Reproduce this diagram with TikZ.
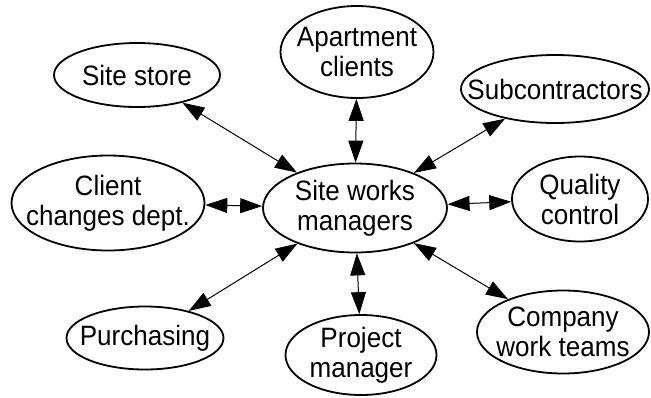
\documentclass[tikz,border=0pt]{standalone}
\usepackage{fontspec}
\setmainfont{Liberation Sans}[FakeStretch=0.93]
\usetikzlibrary{shapes.geometric,arrows.meta}

\tikzset{
  unit/.style={ellipse,draw,line width=1.8pt,inner sep=0pt,
    label={[font=\fontsize{28}{30}\selectfont,align=center]center:#1}},
  link/.style={line width=1pt,
    {Triangle[length=22pt,width=15pt]}-{Triangle[length=22pt,width=15pt]}}
}

\begin{document}
\begin{tikzpicture}[x=1pt,y=-1pt]
	\useasboundingbox (0,0) rectangle (651,397);
	\node[unit={Site works\\managers},minimum width=184pt,minimum height=89pt] (works) at (355,208) {};
	\node[unit={Site store},minimum width=166pt,minimum height=64pt] (store) at (137,75) {};
	\node[unit={Apartment\\clients},minimum width=153pt,minimum height=92pt] (clients) at (357,52) {};
	\node[unit={Subcontractors},minimum width=188pt,minimum height=68pt] (subcon) at (555,89) {};
	\node[unit={Client\\changes dept.},minimum width=193pt,minimum height=95pt] (changes) at (108,203) {};
	\node[unit={Quality\\control},minimum width=136pt,minimum height=85pt] (quality) at (580,199) {};
	\node[unit={Purchasing},minimum width=157pt,minimum height=63pt] (purch) at (145,338) {};
	\node[unit={Project\\manager},minimum width=151pt,minimum height=80pt] (pm) at (361,355) {};
	\node[unit={Company\\work teams},minimum width=172pt,minimum height=83pt] (teams) at (563,332) {};
	\draw[link] (works) -- (store);
	\draw[link] (works) -- (clients);
	\draw[link] (works) -- (subcon);
	\draw[link] (works) -- (changes);
	\draw[link] (works) -- (quality);
	\draw[link] (works) -- (purch);
	\draw[link] (works) -- (pm);
	\draw[link] (works) -- (teams);
\end{tikzpicture}
\end{document}
